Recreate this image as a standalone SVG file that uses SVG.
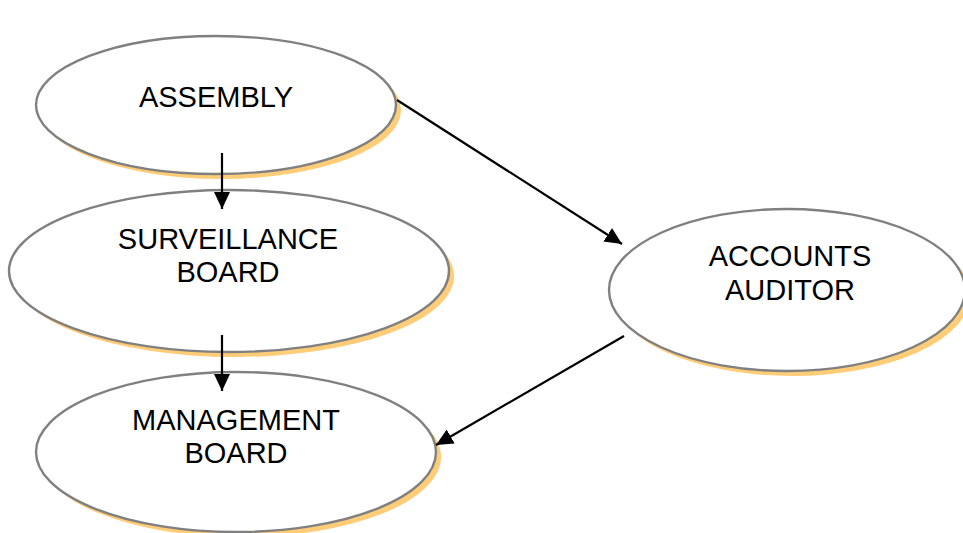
<svg xmlns="http://www.w3.org/2000/svg" width="963" height="533" viewBox="0 0 963 533">
<style>
.sh{fill:#FFCC77;stroke:none}
.el{fill:#ffffff;stroke:#808080;stroke-width:2.4}
.t{font-family:"Liberation Sans",Arial,sans-serif;font-size:29px;fill:#000;text-anchor:middle}
.c{stroke:#000;stroke-width:2.2;fill:none;marker-end:url(#ah)}
</style>
<defs>
<marker id="ah" markerWidth="17" markerHeight="16" refX="17" refY="8" orient="auto" markerUnits="userSpaceOnUse" viewBox="0 0 17 16">
<path d="M0,0 L17,8 L0,16 z" fill="#000"/>
</marker>
</defs>
<rect width="963" height="533" fill="#ffffff"/>
<g id="assembly">
<ellipse class="sh" cx="221" cy="110" rx="180" ry="69"/>
<ellipse class="el" cx="216" cy="105" rx="180" ry="69"/>
<text class="t" x="216" y="107">ASSEMBLY</text>
</g>
<g id="surveillance">
<ellipse class="sh" cx="234" cy="276" rx="220" ry="81"/>
<ellipse class="el" cx="229" cy="271" rx="220" ry="81"/>
<text class="t" x="228" y="249">SURVEILLANCE</text>
<text class="t" x="228" y="282">BOARD</text>
</g>
<g id="management">
<ellipse class="sh" cx="241" cy="457" rx="200" ry="80"/>
<ellipse class="el" cx="236" cy="452" rx="200" ry="80"/>
<text class="t" x="236" y="430">MANAGEMENT</text>
<text class="t" x="236" y="463">BOARD</text>
</g>
<g id="auditor">
<ellipse class="sh" cx="792" cy="295" rx="178" ry="81"/>
<ellipse class="el" cx="787" cy="290" rx="178" ry="81"/>
<text class="t" x="790" y="266">ACCOUNTS</text>
<text class="t" x="790" y="300">AUDITOR</text>
</g>
<g id="connectors">
<line class="c" x1="222" y1="153" x2="222" y2="209"/>
<line class="c" x1="222" y1="335" x2="222" y2="391"/>
<line class="c" x1="397" y1="100" x2="622" y2="244"/>
<line class="c" x1="624" y1="336" x2="436" y2="445"/>
</g>
</svg>
